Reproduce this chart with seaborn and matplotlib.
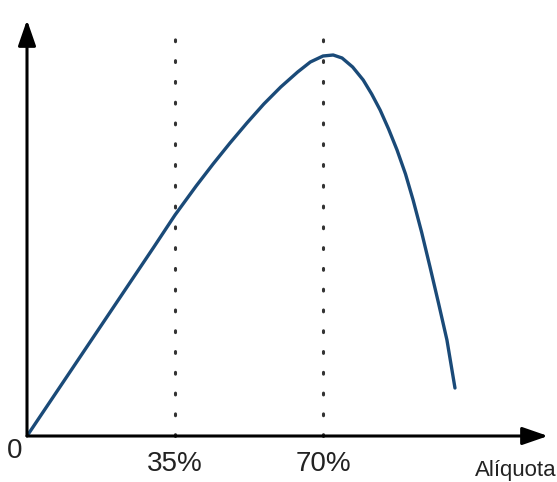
import matplotlib
matplotlib.use("Agg")
import matplotlib.pyplot as plt
import seaborn as sns
import pandas as pd

# Data (x in % tax rate, y in arbitrary revenue units)
aliquota = [0, 10, 20, 30, 35, 40, 44, 48, 52, 56, 60, 64, 67, 70, 72.4, 74.5, 77, 79.5, 81.5, 83.5, 85.5, 87.5, 89.5, 91.3, 93.3, 95.3, 97.3, 99.3, 101.2]
arrecadacao = [0, 63, 126, 189, 221, 250, 272, 293, 313, 332, 349, 364, 374, 380, 381, 378, 369, 356, 342, 326, 307, 286, 262, 236, 204, 169, 133, 96, 48]
tick_pos = [35, 70]
tick_labels = ["35%", "70%"]

sns.set_theme(style="white")
plt.rcParams['font.family'] = ['Liberation Sans Narrow', 'Liberation Sans', 'DejaVu Sans']

fig = plt.figure(figsize=(5.57, 4.82), dpi=100)
ax = fig.add_axes([27/557, 46/482, (548-27)/557, (436-20)/482])
df = pd.DataFrame({"x": aliquota, "y": arrecadacao})
sns.lineplot(data=df, x="x", y="y", ax=ax, color="#1a4a78", linewidth=2.4)

xmax, ymax = (548-27)/4.229, 416
ax.set_xlim(0, xmax)
ax.set_ylim(0, ymax)
for s in ax.spines.values():
    s.set_visible(False)
ax.set_xticks([]); ax.set_yticks([])
ax.set_xlabel(""); ax.set_ylabel("")

for t in tick_pos:
    ax.plot([t, t], [0, 404], color="#333333", linestyle=(0, (0.6, 6.2)), linewidth=2.2,
            dash_capstyle="round", clip_on=False)

arrow = dict(arrowstyle="-|>,head_length=1.3,head_width=0.45", color="black", lw=2.2, shrinkA=0, shrinkB=0)
ax.annotate("", xy=(xmax, 0), xytext=(0, 0), arrowprops=arrow, annotation_clip=False)
ax.annotate("", xy=(0, ymax), xytext=(0, 0), arrowprops=arrow, annotation_clip=False)

for t, lab in zip(tick_pos, tick_labels):
    ax.text(t, -15, lab, ha="center", va="top", fontsize=20, color="#222222")
ax.text(-1.2, -2, "0", ha="right", va="top", fontsize=20, color="#222222")
ax.text(xmax + 2, -24, "Alíquota", ha="right", va="top", fontsize=16, color="#222222")

fig.savefig("out.png", dpi=100)
